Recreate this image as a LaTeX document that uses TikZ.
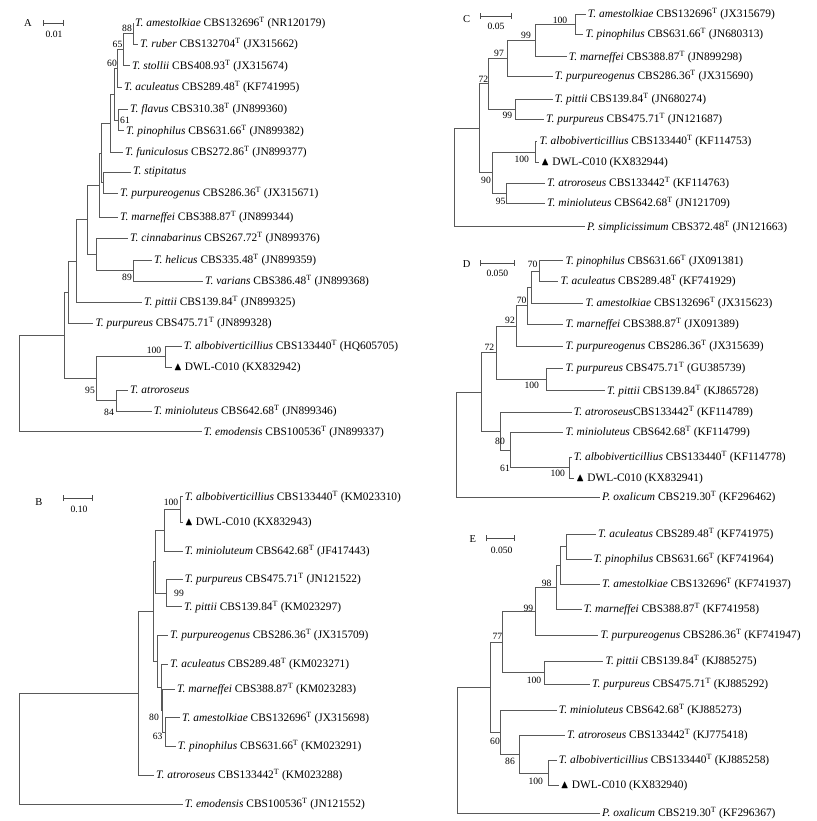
\documentclass[tikz,border=0pt]{standalone}
\usepackage{amssymb}
\usepackage{fontspec}
\setmainfont{Liberation Serif}
\usepackage{tikz}
\usetikzlibrary{arrows.meta}
\newcommand{\taxon}[3]{\textit{#1} #2\textsuperscript{T} (#3)}
\newcommand{\dwl}[1]{$\blacktriangle$ DWL-C010 (#1)}

\begin{document}
\begin{tikzpicture}[x=1pt, y=-1pt,
    leaf/.style={anchor=west, inner xsep=2pt, inner ysep=1pt, font=\fontsize{11.4}{13}\selectfont},
    bval/.style={inner sep=0pt, font=\fontsize{9.6}{11}\selectfont},
    panel/.style={inner sep=0pt, font=\fontsize{10.5}{12}\selectfont},
    branch/.style={draw=black!65, line width=0.75pt},
    scalebar/.style={draw=black!70, line width=0.75pt, {Bar[width=6pt]}-{Bar[width=6pt]}}
]
    \useasboundingbox (0,0) rectangle (816,821);

    % Albero A
    \node[panel] (labA) at (28,23) {A};
    \coordinate (sbA1) at (43,23); \coordinate (sbA2) at (64,23);
    \draw[scalebar] (sbA1) -- (sbA2);
    \node[bval] (sbAt) at (54,34) {0.01};

    \node[leaf] (aAme) at (133,23.3) {\taxon{T. amestolkiae}{CBS132696}{NR120179}};
    \node[leaf] (aRub) at (138,44.3) {\taxon{T. ruber}{CBS132704}{JX315662}};
    \node[leaf] (aSto) at (130,65.7) {\taxon{T. stollii}{CBS408.93}{JX315674}};
    \node[leaf] (aAcu) at (122,87.3) {\taxon{T. aculeatus}{CBS289.48}{KF741995}};
    \node[leaf] (aFla) at (128,109.3) {\taxon{T. flavus}{CBS310.38}{JN899360}};
    \node[leaf] (aPin) at (124,130.7) {\taxon{T. pinophilus}{CBS631.66}{JN899382}};
    \node[leaf] (aFun) at (123,152.3) {\taxon{T. funiculosus}{CBS272.86}{JN899377}};
    \node[leaf] (aSti) at (131,172.3) {\textit{T. stipitatus}};
    \node[leaf] (aPgn) at (118,193.3) {\taxon{T. purpureogenus}{CBS286.36}{JX315671}};
    \node[leaf] (aMar) at (118,217.3) {\taxon{T. marneffei}{CBS388.87}{JN899344}};
    \node[leaf] (aCin) at (128,238.3) {\taxon{T. cinnabarinus}{CBS267.72}{JN899376}};
    \node[leaf] (aHel) at (152,260) {\taxon{T. helicus}{CBS335.48}{JN899359}};
    \node[leaf] (aVar) at (203,281) {\taxon{T. varians}{CBS386.48}{JN899368}};
    \node[leaf] (aPit) at (142,302.3) {\taxon{T. pittii}{CBS139.84}{JN899325}};
    \node[leaf] (aPur) at (93.3,323.3) {\taxon{T. purpureus}{CBS475.71}{JN899328}};
    \node[leaf] (aAlb) at (181.7,346) {\taxon{T. albobiverticillius}{CBS133440}{HQ605705}};
    \node[leaf] (aDwl) at (171.7,367.3) {\dwl{KX832942}};
    \node[leaf] (aAtr) at (128,390) {\textit{T. atroroseus}};
    \node[leaf] (aMin) at (151.7,411) {\taxon{T. minioluteus}{CBS642.68}{JN899346}};
    \node[leaf] (aEmo) at (201.7,431.7) {\taxon{T. emodensis}{CBS100536}{JN899337}};

    \coordinate (a88) at (133,33.8);
    \coordinate (a65) at (123,49.8);
    \coordinate (a60) at (117,68.5);
    \coordinate (a61) at (118,120);
    \coordinate (aY) at (114,94.3);
    \coordinate (aX) at (110,123.3);
    \coordinate (aS) at (103,182.8);
    \coordinate (aM1) at (101,153);
    \coordinate (aM) at (99,185.2);
    \coordinate (a89) at (133,270.5);
    \coordinate (aC) at (96.7,254.4);
    \coordinate (a87) at (87.3,219.8);
    \coordinate (a76) at (76,261);
    \coordinate (a68) at (68.3,292.2);
    \coordinate (a100) at (165.7,356.7);
    \coordinate (a84) at (116,400.5);
    \coordinate (a95) at (96.7,378.6);
    \coordinate (a64) at (64,335.4);
    \coordinate (aR) at (19,383.5);

    \draw[branch] (a88) |- (aAme.west) (a88) |- (aRub.west);
    \draw[branch] (a65) |- (a88) (a65) |- (aSto.west);
    \draw[branch] (a60) |- (a65) (a60) |- (aAcu.west);
    \draw[branch] (a61) |- (aFla.west) (a61) |- (aPin.west);
    \draw[branch] (aY) |- (a60) (aY) |- (a61);
    \draw[branch] (aX) |- (aY) (aX) |- (aFun.west);
    \draw[branch] (aS) |- (aSti.west) (aS) |- (aPgn.west);
    \draw[branch] (aM1) |- (aX) (aM1) |- (aS);
    \draw[branch] (aM) |- (aM1) (aM) |- (aMar.west);
    \draw[branch] (a89) |- (aHel.west) (a89) |- (aVar.west);
    \draw[branch] (aC) |- (aCin.west) (aC) |- (a89);
    \draw[branch] (a87) |- (aM) (a87) |- (aC);
    \draw[branch] (a76) |- (a87) (a76) |- (aPit.west);
    \draw[branch] (a68) |- (a76) (a68) |- (aPur.west);
    \draw[branch] (a100) |- (aAlb.west) (a100) |- (aDwl.west);
    \draw[branch] (a84) |- (aAtr.west) (a84) |- (aMin.west);
    \draw[branch] (a95) |- (a100) (a95) |- (a84);
    \draw[branch] (a64) |- (a68) (a64) |- (a95);
    \draw[branch] (aR) |- (a64) (aR) |- (aEmo.west);

    \node[bval] (bA88) at (127,28) {88};
    \node[bval] (bA65) at (117.5,44) {65};
    \node[bval] (bA60) at (112,63) {60};
    \node[bval] (bA61) at (125,120) {61};
    \node[bval] (bA89) at (127,277) {89};
    \node[bval] (bA100) at (154,350) {100};
    \node[bval] (bA95) at (90,390) {95};
    \node[bval] (bA84) at (109,412) {84};

    % Albero B
    \node[panel] (labB) at (39,501.7) {B};
    \coordinate (sbB1) at (63.3,498); \coordinate (sbB2) at (92.3,498);
    \draw[scalebar] (sbB1) -- (sbB2);
    \node[bval] (sbBt) at (79,509) {0.10};

    \node[leaf] (bAlb) at (182.7,496.7) {\taxon{T. albobiverticillius}{CBS133440}{KM023310}};
    \node[leaf] (bDwl) at (182.7,522.3) {\dwl{KX832943}};
    \node[leaf] (bMin) at (182.7,551) {\taxon{T. minioluteum}{CBS642.68}{JF417443}};
    \node[leaf] (bPur) at (182.7,579) {\taxon{T. purpureus}{CBS475.71}{JN121522}};
    \node[leaf] (bPit) at (182,606.7) {\taxon{T. pittii}{CBS139.84}{KM023297}};
    \node[leaf] (bPgn) at (168,635) {\taxon{T. purpureogenus}{CBS286.36}{JX315709}};
    \node[leaf] (bAcu) at (168,664) {\taxon{T. aculeatus}{CBS289.48}{KM023271}};
    \node[leaf] (bMar) at (175,689.3) {\taxon{T. marneffei}{CBS388.87}{KM023283}};
    \node[leaf] (bAme) at (180,717.7) {\taxon{T. amestolkiae}{CBS132696}{JX315698}};
    \node[leaf] (bPin) at (175.7,746) {\taxon{T. pinophilus}{CBS631.66}{KM023291}};
    \node[leaf] (bAtr) at (154,775) {\taxon{T. atroroseus}{CBS133442}{KM023288}};
    \node[leaf] (bEmo) at (182.7,804) {\taxon{T. emodensis}{CBS100536}{JN121552}};

    \coordinate (b100) at (180,509.5);
    \coordinate (b1) at (164.3,530.3);
    \coordinate (b99) at (166.7,592.9);
    \coordinate (b6) at (155,561.6);
    \coordinate (b63) at (165.7,731.9);
    \coordinate (b80) at (162.3,710.6);
    \coordinate (b4) at (161,687.3);
    \coordinate (b3) at (157,661.2);
    \coordinate (b2) at (153.3,611.4);
    \coordinate (b5) at (138.3,693.2);
    \coordinate (bR) at (19,748.6);

    \draw[branch] (b100) |- (bAlb.west) (b100) |- (bDwl.west);
    \draw[branch] (b1) |- (b100) (b1) |- (bMin.west);
    \draw[branch] (b99) |- (bPur.west) (b99) |- (bPit.west);
    \draw[branch] (b6) |- (b1) (b6) |- (b99);
    \draw[branch] (b63) |- (bAme.west) (b63) |- (bPin.west);
    \draw[branch] (b80) |- (bMar.west) (b80) |- (b63);
    \draw[branch] (b4) |- (bAcu.west) (b4) |- (b80);
    \draw[branch] (b3) |- (bPgn.west) (b3) |- (b4);
    \draw[branch] (b2) |- (b6) (b2) |- (b3);
    \draw[branch] (b5) |- (b2) (b5) |- (bAtr.west);
    \draw[branch] (bR) |- (b5) (bR) |- (bEmo.west);

    \node[bval] (bB100) at (171,502.7) {100};
    \node[bval] (bB99) at (179,593.3) {99};
    \node[bval] (bB80) at (154,717.3) {80};
    \node[bval] (bB63) at (157.7,736) {63};

    % Albero C
    \node[panel] (labC) at (466.7,19.3) {C};
    \coordinate (sbC1) at (480,16); \coordinate (sbC2) at (511.7,16);
    \draw[scalebar] (sbC1) -- (sbC2);
    \node[bval] (sbCt) at (496,26.7) {0.05};

    \node[leaf] (cAme) at (585.7,14.3) {\taxon{T. amestolkiae}{CBS132696}{JX315679}};
    \node[leaf] (cPin) at (583.3,34.3) {\taxon{T. pinophilus}{CBS631.66}{JN680313}};
    \node[leaf] (cMar) at (566.7,56.7) {\taxon{T. marneffei}{CBS388.87}{JN899298}};
    \node[leaf] (cPgn) at (552.7,76) {\taxon{T. purpureogenus}{CBS286.36}{JX315690}};
    \node[leaf] (cPit) at (552.7,99) {\taxon{T. pittii}{CBS139.84}{JN680274}};
    \node[leaf] (cPur) at (544,119) {\taxon{T. purpureus}{CBS475.71}{JN121687}};
    \node[leaf] (cAlb) at (537.3,141) {\taxon{T. albobiverticillius}{CBS133440}{KF114753}};
    \node[leaf] (cDwl) at (539,162.7) {\dwl{KX832944}};
    \node[leaf] (cAtr) at (545,183.3) {\taxon{T. atroroseus}{CBS133442}{KF114763}};
    \node[leaf] (cMin) at (545,203.3) {\taxon{T. minioluteus}{CBS642.68}{JN121709}};
    \node[leaf] (cSim) at (585,226.7) {\taxon{P. simplicissimum}{CBS372.48}{JN121663}};

    \coordinate (c100) at (575,24.3);
    \coordinate (c99) at (535.7,40.5);
    \coordinate (c97) at (507.3,58.3);
    \coordinate (c99b) at (515,109);
    \coordinate (c72) at (488.3,83.6);
    \coordinate (c100b) at (535,151.9);
    \coordinate (c95) at (506,193.3);
    \coordinate (c90) at (492.7,172.6);
    \coordinate (c1) at (479.3,128.1);
    \coordinate (cR) at (454.3,177.4);

    \draw[branch] (c100) |- (cAme.west) (c100) |- (cPin.west);
    \draw[branch] (c99) |- (c100) (c99) |- (cMar.west);
    \draw[branch] (c97) |- (c99) (c97) |- (cPgn.west);
    \draw[branch] (c99b) |- (cPit.west) (c99b) |- (cPur.west);
    \draw[branch] (c72) |- (c97) (c72) |- (c99b);
    \draw[branch] (c100b) |- (cAlb.west) (c100b) |- (cDwl.west);
    \draw[branch] (c95) |- (cAtr.west) (c95) |- (cMin.west);
    \draw[branch] (c90) |- (c100b) (c90) |- (c95);
    \draw[branch] (c1) |- (c72) (c1) |- (c90);
    \draw[branch] (cR) |- (c1) (cR) |- (cSim.west);

    \node[bval] (bC100) at (560,20) {100};
    \node[bval] (bC99) at (526,35) {99};
    \node[bval] (bC97) at (499,53.3) {97};
    \node[bval] (bC72) at (483.3,79) {72};
    \node[bval] (bC99b) at (507.3,115) {99};
    \node[bval] (bC100b) at (521.7,159.3) {100};
    \node[bval] (bC90) at (486,180) {90};
    \node[bval] (bC95) at (500.7,201.7) {95};

    % Albero D
    \node[panel] (labD) at (466.7,264.3) {D};
    \coordinate (sbD1) at (480,263.3); \coordinate (sbD2) at (515,263.3);
    \draw[scalebar] (sbD1) -- (sbD2);
    \node[bval] (sbDt) at (497.3,273.3) {0.050};

    \node[leaf] (dPin) at (563.3,260.7) {\taxon{T. pinophilus}{CBS631.66}{JX091381}};
    \node[leaf] (dAcu) at (558.3,281) {\taxon{T. aculeatus}{CBS289.48}{KF741929}};
    \node[leaf] (dAme) at (583.3,303.3) {\taxon{T. amestolkiae}{CBS132696}{JX315623}};
    \node[leaf] (dMar) at (563.3,324.3) {\taxon{T. marneffei}{CBS388.87}{JX091389}};
    \node[leaf] (dPgn) at (563.3,346) {\taxon{T. purpureogenus}{CBS286.36}{JX315639}};
    \node[leaf] (dPur) at (563.3,368.3) {\taxon{T. purpureus}{CBS475.71}{GU385739}};
    \node[leaf] (dPit) at (605,390.7) {\taxon{T. pittii}{CBS139.84}{KJ865728}};
    \node[leaf] (dAtr) at (571.7,412.3) {\textit{T. atroroseus}CBS133442\textsuperscript{T} (KF114789)};
    \node[leaf] (dMin) at (563.3,432.3) {\taxon{T. minioluteus}{CBS642.68}{KF114799}};
    \node[leaf] (dAlb) at (571.7,457.3) {\taxon{T. albobiverticillius}{CBS133440}{KF114778}};
    \node[leaf] (dDwl) at (574,478.3) {\dwl{KX832941}};
    \node[leaf] (dOxa) at (600,497.3) {\taxon{P. oxalicum}{CBS219.30}{KF296462}};

    \coordinate (d70a) at (539.3,270.9);
    \coordinate (d1) at (531,287.1);
    \coordinate (d70b) at (527.3,305.7);
    \coordinate (d92) at (516.7,325.9);
    \coordinate (d100a) at (546,379.5);
    \coordinate (d72) at (496,352.7);
    \coordinate (d100b) at (569,467.8);
    \coordinate (d61) at (510,450.1);
    \coordinate (d80) at (500.7,431.2);
    \coordinate (d2) at (481.7,392);
    \coordinate (dR) at (456,444.6);

    \draw[branch] (d70a) |- (dPin.west) (d70a) |- (dAcu.west);
    \draw[branch] (d1) |- (d70a) (d1) |- (dAme.west);
    \draw[branch] (d70b) |- (d1) (d70b) |- (dMar.west);
    \draw[branch] (d92) |- (d70b) (d92) |- (dPgn.west);
    \draw[branch] (d100a) |- (dPur.west) (d100a) |- (dPit.west);
    \draw[branch] (d72) |- (d92) (d72) |- (d100a);
    \draw[branch] (d100b) |- (dAlb.west) (d100b) |- (dDwl.west);
    \draw[branch] (d61) |- (dMin.west) (d61) |- (d100b);
    \draw[branch] (d80) |- (dAtr.west) (d80) |- (d61);
    \draw[branch] (d2) |- (d72) (d2) |- (d80);
    \draw[branch] (dR) |- (d2) (dR) |- (dOxa.west);

    \node[bval] (bD70a) at (532.7,264.3) {70};
    \node[bval] (bD70b) at (521.7,300) {70};
    \node[bval] (bD92) at (510,320) {92};
    \node[bval] (bD72) at (489.3,347.3) {72};
    \node[bval] (bD100a) at (531.7,385.7) {100};
    \node[bval] (bD80) at (500,441) {80};
    \node[bval] (bD61) at (505,468.3) {61};
    \node[bval] (bD100b) at (557.7,473.3) {100};

    % Albero E
    \node[panel] (labE) at (472.7,539.3) {E};
    \coordinate (sbE1) at (485.7,538.3); \coordinate (sbE2) at (514.3,538.3);
    \draw[scalebar] (sbE1) -- (sbE2);
    \node[bval] (sbEt) at (501.7,550) {0.050};

    \node[leaf] (eAcu) at (596,534.3) {\taxon{T. aculeatus}{CBS289.48}{KF741975}};
    \node[leaf] (ePin) at (591.7,559.3) {\taxon{T. pinophilus}{CBS631.66}{KF741964}};
    \node[leaf] (eAme) at (600,584.3) {\taxon{T. amestolkiae}{CBS132696}{KF741937}};
    \node[leaf] (eMar) at (581.7,609.3) {\taxon{T. marneffei}{CBS388.87}{KF741958}};
    \node[leaf] (ePgn) at (598.3,635) {\taxon{T. purpureogenus}{CBS286.36}{KF741947}};
    \node[leaf] (ePit) at (603.3,661) {\taxon{T. pittii}{CBS139.84}{KJ885275}};
    \node[leaf] (ePur) at (590,684.3) {\taxon{T. purpureus}{CBS475.71}{KJ885292}};
    \node[leaf] (eMin) at (556.7,710) {\taxon{T. minioluteus}{CBS642.68}{KJ885273}};
    \node[leaf] (eAtr) at (565,735) {\taxon{T. atroroseus}{CBS133442}{KJ775418}};
    \node[leaf] (eAlb) at (556.7,760) {\taxon{T. albobiverticillius}{CBS133440}{KJ885258}};
    \node[leaf] (eDwl) at (558.5,785.7) {\dwl{KX832940}};
    \node[leaf] (eOxa) at (600,813.3) {\taxon{P. oxalicum}{CBS219.30}{KF296367}};

    \coordinate (e1) at (566.7,546.8);
    \coordinate (e2) at (560,565.6);
    \coordinate (e98) at (556,587.4);
    \coordinate (e99) at (535.7,611.2);
    \coordinate (e100a) at (544.3,672.7);
    \coordinate (e77) at (502.7,641.9);
    \coordinate (e100b) at (548.3,772.9);
    \coordinate (e86) at (519,753.9);
    \coordinate (e60) at (500,732);
    \coordinate (e0) at (490,686.9);
    \coordinate (eR) at (457.3,750.1);

    \draw[branch] (e1) |- (eAcu.west) (e1) |- (ePin.west);
    \draw[branch] (e2) |- (e1) (e2) |- (eAme.west);
    \draw[branch] (e98) |- (e2) (e98) |- (eMar.west);
    \draw[branch] (e99) |- (e98) (e99) |- (ePgn.west);
    \draw[branch] (e100a) |- (ePit.west) (e100a) |- (ePur.west);
    \draw[branch] (e77) |- (e99) (e77) |- (e100a);
    \draw[branch] (e100b) |- (eAlb.west) (e100b) |- (eDwl.west);
    \draw[branch] (e86) |- (eAtr.west) (e86) |- (e100b);
    \draw[branch] (e60) |- (eMin.west) (e60) |- (e86);
    \draw[branch] (e0) |- (e77) (e0) |- (e60);
    \draw[branch] (eR) |- (e0) (eR) |- (eOxa.west);

    \node[bval] (bE98) at (546.7,583.3) {98};
    \node[bval] (bE99) at (528.3,608.3) {99};
    \node[bval] (bE77) at (497.3,636.7) {77};
    \node[bval] (bE100a) at (534,680) {100};
    \node[bval] (bE60) at (495,741) {60};
    \node[bval] (bE86) at (510,761.7) {86};
    \node[bval] (bE100b) at (535.7,781.7) {100};
\end{tikzpicture}
\end{document}
